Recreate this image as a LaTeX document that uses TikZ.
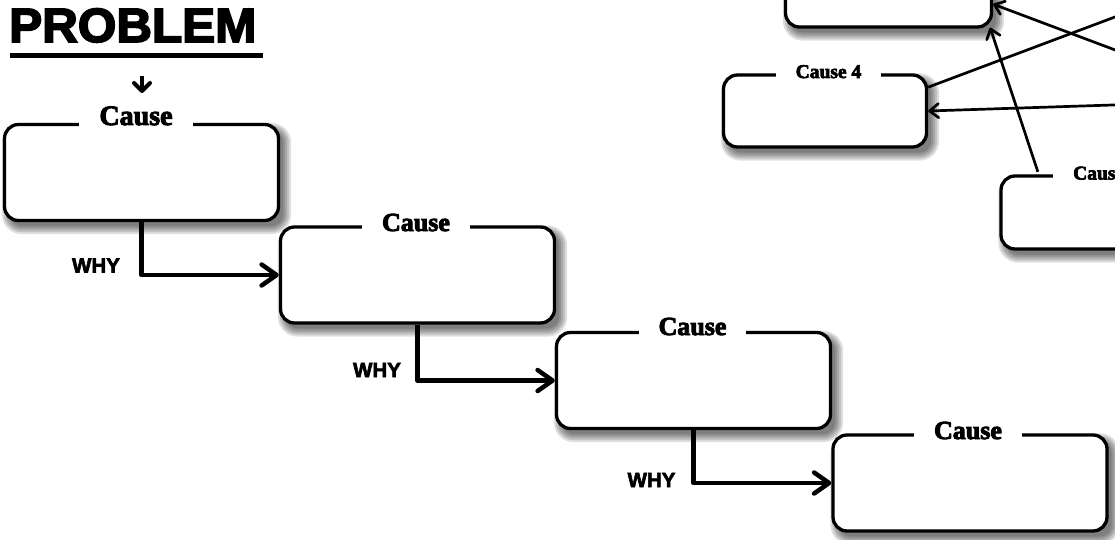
\documentclass[tikz,border=0pt]{standalone}
\usepackage{fontspec}
\setmainfont{Liberation Serif}
\newfontfamily\heavyserif{Liberation Serif}[BoldFeatures={FakeBold=3.5}]
\newfontfamily\whyfont{Liberation Sans}[BoldFeatures={FakeBold=3}]
\newfontfamily\probfont{Liberation Sans}[BoldFeatures={FakeBold=3.5}]
\usetikzlibrary{arrows.meta,calc,backgrounds}
\begin{document}
\begin{tikzpicture}[x=1pt,y=-1pt,
  cbox/.style={draw, fill=white, line width=3.3pt, rounded corners=14pt, inner sep=0pt},
  bigbox/.style={cbox, minimum width=274pt, minimum height=96pt},
  clab/.style={fill=white, inner xsep=20pt, inner ysep=2pt, anchor=base, font=\heavyserif\bfseries\fontsize{26}{27}\selectfont},
  slab/.style={clab, font=\heavyserif\bfseries\fontsize{19.5}{20}\selectfont},
  whytxt/.style={inner sep=0pt, font=\whyfont\bfseries\fontsize{20.5}{21}\selectfont},
  whyline/.style={line width=4.5pt, line join=round, -{Straight Barb[length=15pt,width=21pt,round]}},
  thinarr/.style={line width=2.7pt, -{Straight Barb[length=9pt,width=14pt,round]}},
  probarr/.style={line width=4pt, -{Straight Barb[length=8pt,width=16pt,round]}},
]
\begin{pgfonlayer}{background}
  \fill[white] (0,0) rectangle (1115,540);
\end{pgfonlayer}
\useasboundingbox (0,0) rectangle (1115,540);

% title
\node[anchor=base west, inner sep=0pt, font=\probfont\bfseries\fontsize{48}{48}\selectfont] (prob) at (9,42) {\scalebox{1.03}[1]{PROBLEM}};
\draw[line width=5pt] (10,55.5) -- (263,55.5);
\coordinate (pa) at (142,76);
\coordinate (pb) at (142,93);
\draw[probarr] (pa) -- (pb);

% staircase boxes
\node[bigbox] (B1) at (141.5,172.5) {};
\node[bigbox] (B2) at (417.5,275) {};
\node[bigbox] (B3) at (693.5,380.5) {};
\node[bigbox] (B4) at (970,483) {};

% top-right boxes
\node[cbox, minimum width=206pt, minimum height=94pt] (T) at (888.5,-20) {};
\node[cbox, minimum width=203pt, minimum height=72pt] (C4) at (825,111) {};
\node[cbox, minimum width=204pt, minimum height=73pt] (C5) at (1103,212.5) {};

% labels
\node[clab, font=\heavyserif\bfseries\fontsize{28}{28}\selectfont] (L1) at (136,125) {Cause};
\node[clab] (L2) at (416,231) {Cause};
\node[clab] (L3) at (692.5,335) {Cause};
\node[clab] (L4) at (968,439) {Cause};
\node[slab] (L5) at (828.5,78) {Cause 4};
\node[slab, anchor=base west] (L6) at (1053,179.5) {Caus};

% WHY connectors
\draw[whyline] (B1.south) |- (B2.west);
\draw[whyline] (B2.south) |- (B3.west);
\draw[whyline] (B3.south) |- (B4.west);
\node[whytxt] (W1) at (96,265.5) {WHY};
\node[whytxt] (W2) at (377,370) {WHY};
\node[whytxt] (W3) at (651.5,480) {WHY};

% top-right connectors
\coordinate (r1) at (1125,53.7);
\coordinate (r2) at (1125,13.2);
\coordinate (r3) at (1125,104.6);
\draw[thinarr] (r1) -- (T.-13.5);
\draw[line width=2.7pt] (C4.13) -- (r2);
\draw[thinarr] (r3) -- (C4.east);
\draw[thinarr] ([xshift=38.5pt,yshift=2.5pt]C5.north west) -- ([xshift=-3pt,yshift=1pt]T.south east);

% shadows
\begin{pgfonlayer}{background}
  \foreach \n in {B1,B2,B3,B4,T,C4,C5}{
    \foreach \e/\r in {-2/12,0/14,2/16,4/18,6/20}{
      \fill[black, opacity=0.13, rounded corners=\r pt]
        ($(\n.south west)+(5-\e,6+\e)$) rectangle ($(\n.north east)+(5+\e,6-\e)$);
    }
  }
\end{pgfonlayer}
\end{tikzpicture}
\end{document}
